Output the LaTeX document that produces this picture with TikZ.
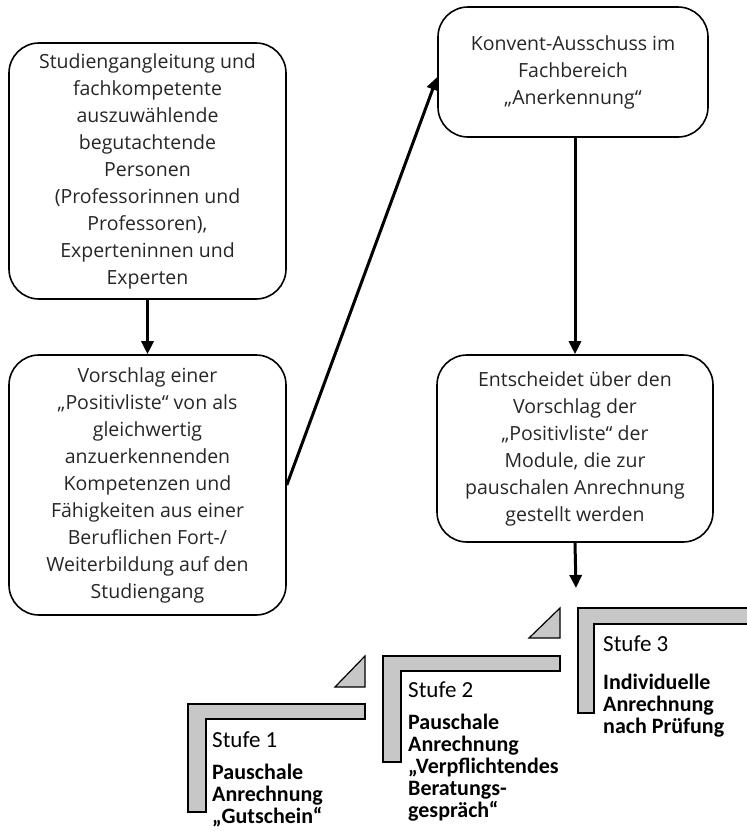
\documentclass[tikz,border=0pt]{standalone}
\usepackage{fontspec}
\setmainfont{Open Sans}
\newfontfamily\stufefont{Carlito}
\usetikzlibrary{arrows.meta}
\begin{document}
\begin{tikzpicture}[x=1pt,y=-1pt,
  box/.style={draw=black, line width=1.6pt, rounded corners=30pt, align=center,
    text=black!85, font=\fontsize{19.5}{27}\selectfont, inner sep=0pt},
  flow/.style={line width=3pt, -{Triangle[length=13pt,width=12pt]}},
  stair/.style={draw=black, line width=1.2pt, fill=black!22, line join=miter},
  stufe/.style={font=\stufefont\fontsize{23}{22}\selectfont, anchor=base west, inner sep=0pt},
  stufetext/.style={font=\stufefont\bfseries\fontsize{22}{22}\selectfont, align=left,
    anchor=north west, inner sep=0pt}]
\useasboundingbox (0,0) rectangle (747,839);

% process boxes
\node[box, minimum width=277pt, minimum height=256pt] (lead) at (147.5,171)
  {Studiengangleitung und\\fachkompetente\\auszuwählende\\begutachtende\\Personen\\
   (Professorinnen und\\Professoren),\\Experteninnen und\\Experten};
\node[box, minimum width=277pt, minimum height=260pt] (proposal) at (147.5,485)
  {Vorschlag einer\\„Positivliste“ von als\\gleichwertig\\anzuerkennenden\\
   Kompetenzen und\\Fähigkeiten aus einer\\Beruflichen Fort-/\\Weiterbildung auf den\\Studiengang};
\node[box, minimum width=270pt, minimum height=130pt] (committee) at (573,72)
  {Konvent-Ausschuss im\\Fachbereich\\„Anerkennung“};
\node[box, minimum width=276pt, minimum height=187pt] (decision) at (575,448.5)
  {Entscheidet über den\\Vorschlag der\\„Positivliste“ der\\Module, die zur\\
   pauschalen Anrechnung\\gestellt werden};
\coordinate (stairs) at (576,588);

% connectors
\draw[flow] (lead.south) -- (proposal.north);
\draw[flow] (proposal.east) -- ([yshift=-5pt]committee.west);
\draw[flow] (committee.south -| decision.north) -- (decision.north);
\draw[flow] (decision.south) -- (stairs);

% staircase of the three levels
\draw[stair] (188,704) -- (365,704) -- (365,719) -- (206,719) -- (206,812) -- (188,812) -- cycle;
\draw[stair] (335,687) -- (365,687) -- (365,656) -- cycle;
\draw[stair] (383,656) -- (560,656) -- (560,671) -- (401,671) -- (401,762) -- (383,762) -- cycle;
\draw[stair] (529,638) -- (560,638) -- (560,608) -- cycle;
\draw[stair] (578,608) -- (770,608) -- (770,624) -- (594,624) -- (594,713) -- (578,713) -- cycle;

% level labels
\node[stufe] (s1) at (212,747) {Stufe 1};
\node[stufetext] (t1) at (212,764) {Pauschale\\Anrechnung\\„Gutschein“};
\node[stufe] (s2) at (408,697) {Stufe 2};
\node[stufetext] (t2) at (408,714) {Pauschale\\Anrechnung\\„Verpflichtendes\\Beratungs-\\gespräch“};
\node[stufe] (s3) at (603,651) {Stufe 3};
\node[stufetext] (t3) at (603,674) {Individuelle\\Anrechnung\\nach Prüfung};
\end{tikzpicture}
\end{document}
